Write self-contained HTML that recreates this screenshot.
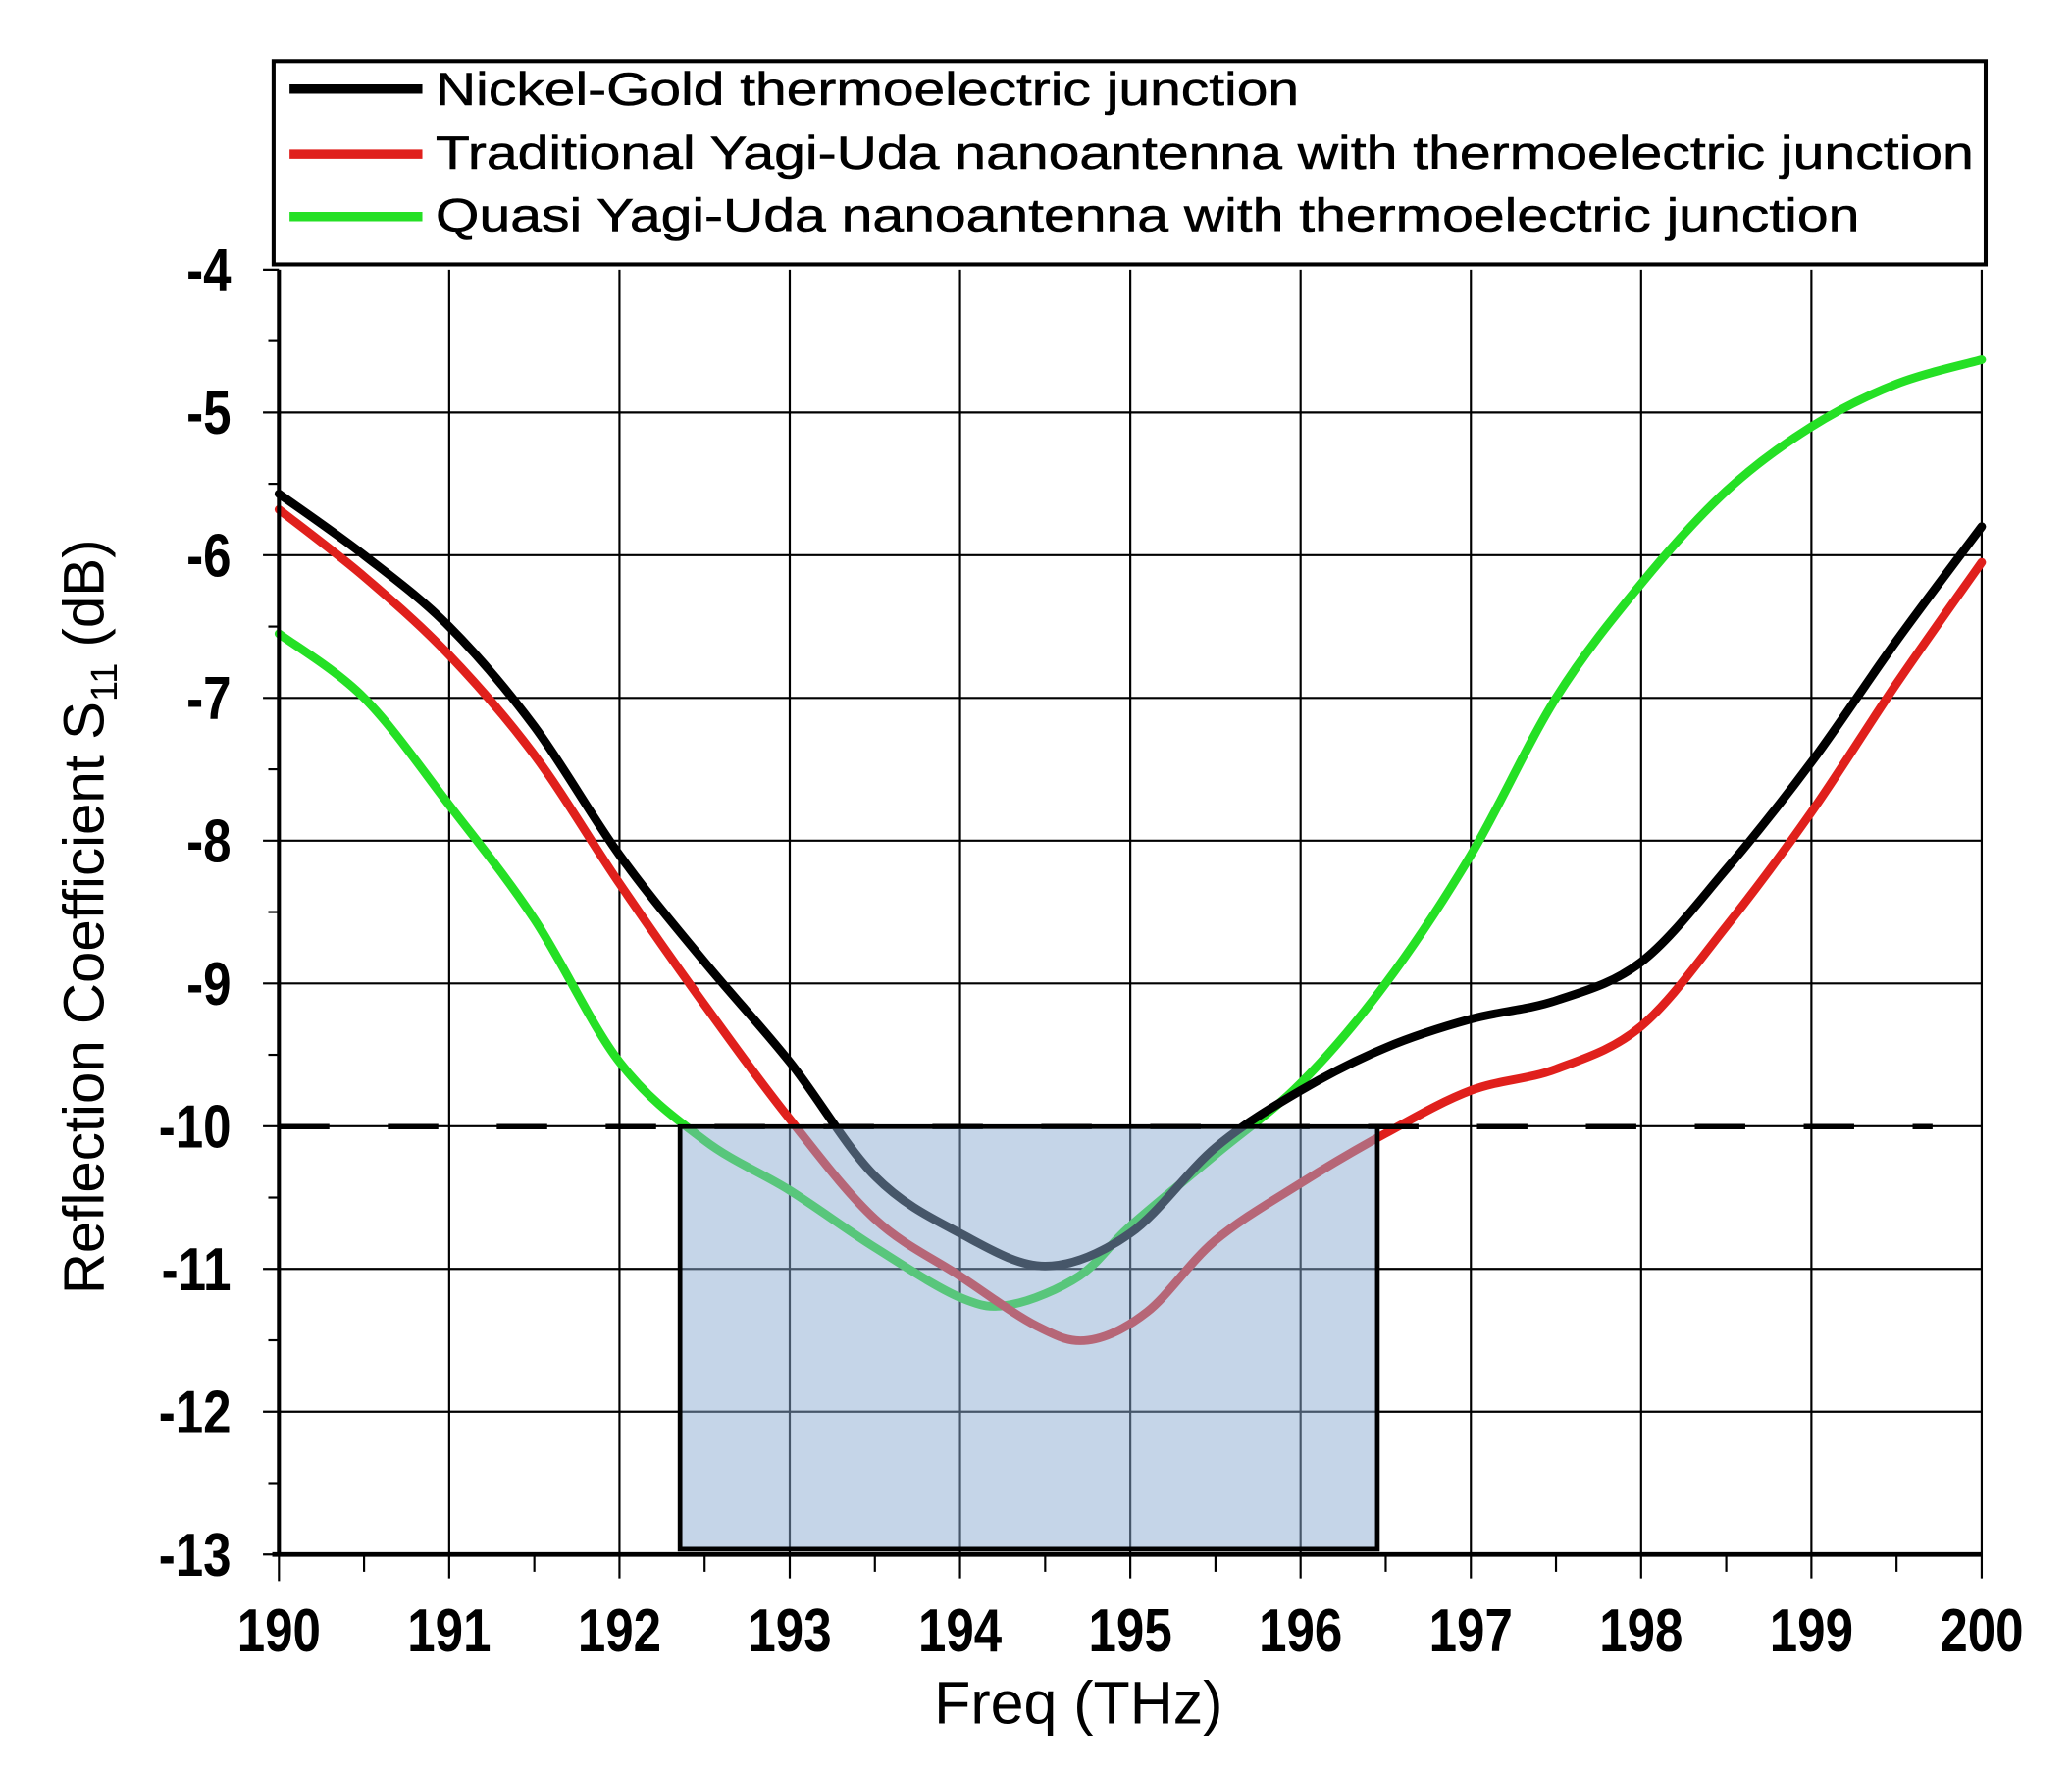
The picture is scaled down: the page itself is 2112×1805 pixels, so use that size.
<!DOCTYPE html>
<html><head><meta charset="utf-8"><style>
html,body{margin:0;padding:0;background:#fff;}
svg{display:block;}
text{font-family:"Liberation Sans",sans-serif;}
</style></head><body>
<svg id="s" width="2112" height="1805" viewBox="0 0 1560 1333" preserveAspectRatio="none" xmlns="http://www.w3.org/2000/svg">
<rect width="1560" height="1333" fill="#fff"/>
<g id="grid" stroke="#000" stroke-width="1.6"></g>
<g id="curves" fill="none" stroke-width="6.5" stroke-linejoin="round" stroke-linecap="round"></g>
<line x1="210" y1="848" x2="1455" y2="848" stroke="#000" stroke-width="4" stroke-dasharray="38,44"/>
<rect x="512" y="848" width="525" height="318" fill="rgb(139,171,209)" fill-opacity="0.5" stroke="#000" stroke-width="3.5"/>
<line x1="210" y1="203" x2="210" y2="1170" stroke="#000" stroke-width="3"/>
<line x1="205" y1="1170" x2="1492" y2="1170" stroke="#000" stroke-width="3.5"/>
<rect x="206" y="46" width="1289" height="153" fill="#fff" stroke="#000" stroke-width="3"/>
<line x1="218" y1="67" x2="318" y2="67" stroke="#000" stroke-width="7"/>
<line x1="218" y1="116" x2="318" y2="116" stroke="#e0201c" stroke-width="7"/>
<line x1="218" y1="163" x2="318" y2="163" stroke="#25e025" stroke-width="7"/>
<g font-size="35" fill="#000" stroke="#000" stroke-width="0.4">
<text x="328" y="79" textLength="650" lengthAdjust="spacingAndGlyphs">Nickel-Gold thermoelectric junction</text>
<text x="328" y="127" textLength="1158" lengthAdjust="spacingAndGlyphs">Traditional Yagi-Uda nanoantenna with thermoelectric junction</text>
<text x="328" y="174" textLength="1072" lengthAdjust="spacingAndGlyphs">Quasi Yagi-Uda nanoantenna with thermoelectric junction</text>
</g>
<g id="ylab" font-size="46" font-weight="bold" text-anchor="end"></g>
<g id="xlab" font-size="46" font-weight="bold" text-anchor="middle"></g>
<text x="812" y="1297" font-size="45" text-anchor="middle">Freq (THz)</text>
<text transform="translate(78,690) rotate(-90)" font-size="43" text-anchor="middle">Reflection Coefficient S<tspan font-size="28" dy="10">11</tspan><tspan dy="-10"> (dB)</tspan></text>
</svg>
<script>
var NS="http://www.w3.org/2000/svg";
function X(f){return 210+(f-190)*128.2;}
function Y(d){return 203+(-4-d)*107.44;}
function el(p,t,a,txt){var e=document.createElementNS(NS,t);for(var k in a)e.setAttribute(k,a[k]);if(txt!==undefined)e.textContent=txt;p.appendChild(e);return e;}
var g=document.getElementById('grid');
for(var i=1;i<=10;i++){el(g,'line',{x1:X(190+i),y1:203,x2:X(190+i),y2:1188});}
for(var d=-5;d>=-12;d--){el(g,'line',{x1:210,y1:Y(d),x2:1492,y2:Y(d)});}
el(g,'line',{x1:X(190),y1:1170,x2:X(190),y2:1190});
for(var i=0;i<10;i++){el(g,'line',{x1:X(190.5+i),y1:1170,x2:X(190.5+i),y2:1183});}
for(var d=-4.5;d>=-12.5;d--){el(g,'line',{x1:210,y1:Y(d),x2:202,y2:Y(d)});}
for(var d=-4;d>=-13;d--){el(g,'line',{x1:210,y1:Y(d),x2:198,y2:Y(d)});}
var yl=document.getElementById('ylab');
for(var d=-4;d>=-13;d--){el(yl,'text',{x:0,y:0,transform:'translate(174,'+(Y(d)+16)+') scale(0.82,1)'},String(d));}
var xl=document.getElementById('xlab');
for(var f=190;f<=200;f++){el(xl,'text',{x:0,y:0,transform:'translate('+X(f)+',1243) scale(0.82,1)'},String(f));}
function path(pts){var p=pts.map(function(a){return [X(a[0]),Y(a[1])];});
var s="M"+p[0][0]+","+p[0][1];
for(var i=0;i<p.length-1;i++){var p0=p[Math.max(i-1,0)],p1=p[i],p2=p[i+1],p3=p[Math.min(i+2,p.length-1)];
s+=" C"+(p1[0]+(p2[0]-p0[0])/6)+","+(p1[1]+(p2[1]-p0[1])/6)+" "+(p2[0]-(p3[0]-p1[0])/6)+","+(p2[1]-(p3[1]-p1[1])/6)+" "+p2[0]+","+p2[1];}
return s;}
var black=[[190,-5.57],[190.5,-6.0],[191,-6.5],[191.5,-7.2],[192,-8.1],[192.5,-8.85],[193,-9.55],[193.5,-10.35],[194,-10.75],[194.5,-10.98],[195,-10.75],[195.5,-10.15],[196,-9.75],[196.5,-9.45],[197,-9.25],[197.5,-9.12],[198,-8.85],[198.5,-8.2],[199,-7.45],[199.5,-6.6],[200,-5.8]];
var red=[[190,-5.68],[190.5,-6.15],[191,-6.7],[191.5,-7.4],[192,-8.3],[192.5,-9.15],[193,-9.95],[193.5,-10.65],[194,-11.05],[194.45,-11.4],[194.75,-11.5],[195.1,-11.3],[195.5,-10.8],[196,-10.4],[196.5,-10.05],[197,-9.75],[197.5,-9.6],[198,-9.3],[198.5,-8.6],[199,-7.8],[199.5,-6.9],[200,-6.05]];
var green=[[190,-6.55],[190.5,-7.0],[191,-7.75],[191.5,-8.55],[192,-9.55],[192.5,-10.1],[193,-10.45],[193.5,-10.85],[194,-11.2],[194.3,-11.25],[194.7,-11.05],[195,-10.7],[195.5,-10.2],[196,-9.7],[196.5,-9.0],[197,-8.1],[197.5,-7.0],[198,-6.2],[198.5,-5.55],[199,-5.1],[199.5,-4.8],[200,-4.63]];
var c=document.getElementById('curves');
el(c,'path',{d:path(green),stroke:'#25e025'});
el(c,'path',{d:path(red),stroke:'#e0201c'});
el(c,'path',{d:path(black),stroke:'#000'});
</script>
</body></html>
